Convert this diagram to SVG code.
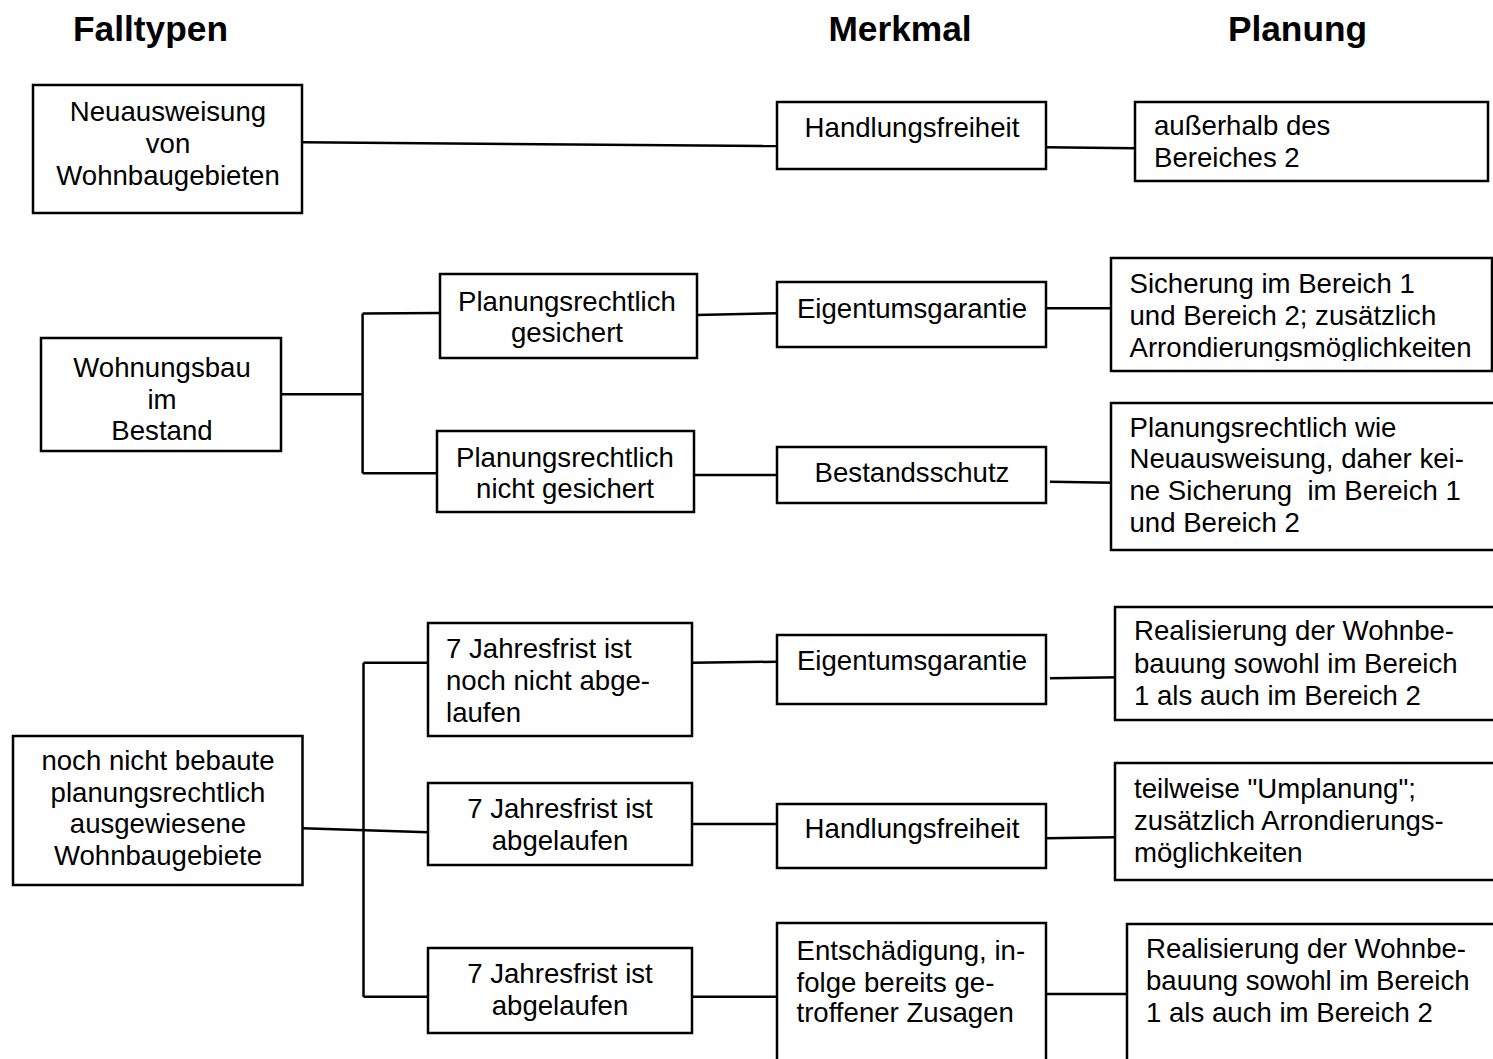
<svg xmlns="http://www.w3.org/2000/svg" width="1493" height="1059" viewBox="0 0 1493 1059">
<style>
  .box { fill: #ffffff; stroke: #000000; stroke-width: 2.5; }
  .t { font-family: "Liberation Sans", Arial, sans-serif; font-size: 27.6px; fill: #000000; }
  .c { text-anchor: middle; }
  .h { font-family: "Liberation Sans", Arial, sans-serif; font-size: 35.3px; font-weight: bold; fill: #000000; text-anchor: middle; }
  .ln { stroke: #000000; stroke-width: 2.5; fill: none; }
</style>
<defs>
  <clipPath id="clipSich"><rect x="1111" y="258" width="382" height="103"/></clipPath>
</defs>
<rect x="0" y="0" width="1493" height="1059" fill="#ffffff"/>

<g id="headers">
  <text class="h" x="150.5" y="41">Falltypen</text>
  <text class="h" x="900" y="41">Merkmal</text>
  <text class="h" x="1297.5" y="41">Planung</text>
</g>

<g id="connectors">
  <line class="ln" x1="303" y1="142.3" x2="777" y2="146"/>
  <line class="ln" x1="1046" y1="147.3" x2="1135" y2="148.3"/>
  <line class="ln" x1="281" y1="394.3" x2="362.6" y2="394.3"/>
  <line class="ln" x1="362.6" y1="313.5" x2="362.6" y2="473.3"/>
  <line class="ln" x1="362.6" y1="313.5" x2="440" y2="313"/>
  <line class="ln" x1="362.6" y1="473.3" x2="437" y2="473.3"/>
  <line class="ln" x1="697" y1="315" x2="777" y2="313.3"/>
  <line class="ln" x1="1046" y1="308.3" x2="1111" y2="308.3"/>
  <line class="ln" x1="694" y1="475" x2="777" y2="475"/>
  <line class="ln" x1="1050" y1="481.7" x2="1115" y2="482.7"/>
  <line class="ln" x1="363.5" y1="662.7" x2="363.5" y2="996.7"/>
  <line class="ln" x1="363.5" y1="662.7" x2="428" y2="662.7"/>
  <line class="ln" x1="692" y1="662.7" x2="777" y2="661.7"/>
  <line class="ln" x1="1050" y1="678.3" x2="1120" y2="677.3"/>
  <line class="ln" x1="302.5" y1="828.3" x2="428" y2="832.3"/>
  <line class="ln" x1="692" y1="824" x2="777" y2="824"/>
  <line class="ln" x1="1046" y1="838.3" x2="1115" y2="837.3"/>
  <line class="ln" x1="363.5" y1="996.7" x2="428" y2="996.7"/>
  <line class="ln" x1="688" y1="996.7" x2="777" y2="996.7"/>
  <line class="ln" x1="1046" y1="994" x2="1127" y2="994"/>
</g>

<g id="n-neuausweisung">
  <rect class="box" x="33" y="85" width="269" height="128"/>
  <text class="t c" x="168"><tspan x="168" y="121">Neuausweisung</tspan><tspan x="168" y="153">von</tspan><tspan x="168" y="185">Wohnbaugebieten</tspan></text>
</g>
<g id="n-handlungsfreiheit1">
  <rect class="box" x="777" y="102" width="269" height="67"/>
  <text class="t c" x="912" y="137">Handlungsfreiheit</text>
</g>
<g id="n-ausserhalb">
  <rect class="box" x="1135" y="102" width="353" height="79"/>
  <text class="t"><tspan x="1154" y="135">außerhalb des</tspan><tspan x="1154" y="167">Bereiches 2</tspan></text>
</g>

<g id="n-wohnungsbau">
  <rect class="box" x="41" y="338" width="240" height="113"/>
  <text class="t c"><tspan x="162" y="377">Wohnungsbau</tspan><tspan x="162" y="408.5">im</tspan><tspan x="162" y="440">Bestand</tspan></text>
</g>
<g id="n-gesichert">
  <rect class="box" x="440" y="274" width="257" height="84"/>
  <text class="t c"><tspan x="567" y="310.5">Planungsrechtlich</tspan><tspan x="567" y="342">gesichert</tspan></text>
</g>
<g id="n-nichtgesichert">
  <rect class="box" x="437" y="431" width="257" height="81"/>
  <text class="t c"><tspan x="565" y="466.5">Planungsrechtlich</tspan><tspan x="565" y="497.5">nicht gesichert</tspan></text>
</g>
<g id="n-eigentum1">
  <rect class="box" x="777" y="282" width="269" height="65"/>
  <text class="t c" x="912" y="318">Eigentumsgarantie</text>
</g>
<g id="n-sicherung">
  <rect class="box" x="1111" y="258" width="381" height="113"/>
  <text class="t" clip-path="url(#clipSich)"><tspan x="1129.5" y="293.3">Sicherung im Bereich 1</tspan><tspan x="1129.5" y="325">und Bereich 2; zusätzlich</tspan><tspan x="1129.5" y="356.7">Arrondierungsmöglichkeiten</tspan></text>
</g>
<g id="n-bestandsschutz">
  <rect class="box" x="777" y="447" width="269" height="56"/>
  <text class="t c" x="912" y="482">Bestandsschutz</text>
</g>
<g id="n-planungwie">
  <rect class="box" x="1111" y="403" width="386" height="147"/>
  <text class="t" xml:space="preserve"><tspan x="1129.5" y="436.7">Planungsrechtlich wie</tspan><tspan x="1129.5" y="468.3">Neuausweisung, daher kei-</tspan><tspan x="1129.5" y="500">ne Sicherung  im Bereich 1</tspan><tspan x="1129.5" y="531.7">und Bereich 2</tspan></text>
</g>

<g id="n-nochnicht">
  <rect class="box" x="13" y="736" width="289.5" height="149"/>
  <text class="t c"><tspan x="158" y="770">noch nicht bebaute</tspan><tspan x="158" y="801.7">planungsrechtlich</tspan><tspan x="158" y="833.4">ausgewiesene</tspan><tspan x="158" y="865">Wohnbaugebiete</tspan></text>
</g>
<g id="n-frist1">
  <rect class="box" x="428" y="623" width="264" height="113"/>
  <text class="t"><tspan x="446" y="658.3">7 Jahresfrist ist</tspan><tspan x="446" y="690">noch nicht abge-</tspan><tspan x="446" y="721.7">laufen</tspan></text>
</g>
<g id="n-frist2">
  <rect class="box" x="428" y="783" width="264" height="82"/>
  <text class="t c"><tspan x="560" y="818">7 Jahresfrist ist</tspan><tspan x="560" y="850">abgelaufen</tspan></text>
</g>
<g id="n-frist3">
  <rect class="box" x="428" y="948" width="264" height="85"/>
  <text class="t c"><tspan x="560" y="983">7 Jahresfrist ist</tspan><tspan x="560" y="1015">abgelaufen</tspan></text>
</g>
<g id="n-eigentum2">
  <rect class="box" x="777" y="635" width="269" height="69"/>
  <text class="t c" x="912" y="670">Eigentumsgarantie</text>
</g>
<g id="n-realisierung1">
  <rect class="box" x="1115" y="607" width="382" height="113"/>
  <text class="t"><tspan x="1134" y="640">Realisierung der Wohnbe-</tspan><tspan x="1134" y="672.5">bauung sowohl im Bereich</tspan><tspan x="1134" y="705">1 als auch im Bereich 2</tspan></text>
</g>
<g id="n-handlungsfreiheit2">
  <rect class="box" x="777" y="804" width="269" height="64"/>
  <text class="t c" x="912" y="838">Handlungsfreiheit</text>
</g>
<g id="n-teilweise">
  <rect class="box" x="1115" y="763" width="382" height="117"/>
  <text class="t"><tspan x="1134" y="798">teilweise "Umplanung";</tspan><tspan x="1134" y="830">zusätzlich Arrondierungs-</tspan><tspan x="1134" y="862">möglichkeiten</tspan></text>
</g>
<g id="n-entschaedigung">
  <rect class="box" x="777" y="923" width="269" height="145"/>
  <text class="t"><tspan x="796.5" y="960">Entschädigung, in-</tspan><tspan x="796.5" y="991.7">folge bereits ge-</tspan><tspan x="796.5" y="1022">troffener Zusagen</tspan></text>
</g>
<g id="n-realisierung2">
  <rect class="box" x="1127" y="924" width="370" height="144"/>
  <text class="t"><tspan x="1146" y="958">Realisierung der Wohnbe-</tspan><tspan x="1146" y="990">bauung sowohl im Bereich</tspan><tspan x="1146" y="1022">1 als auch im Bereich 2</tspan></text>
</g>
</svg>
